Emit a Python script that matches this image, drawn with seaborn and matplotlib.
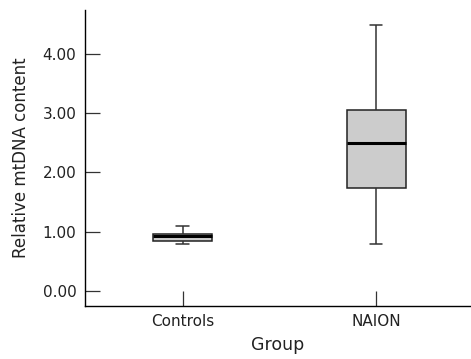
import numpy as np
import pandas as pd
import matplotlib
matplotlib.use("Agg")
import matplotlib.pyplot as plt
import seaborn as sns
from matplotlib.ticker import FormatStrFormatter

# Five-number summaries (min, Q1, median, Q3, max)
groups = ["Controls", "NAION"]
controls_vals = [0.80, 0.84, 0.93, 0.97, 1.09]
naion_vals = [0.80, 1.74, 2.49, 3.05, 4.48]
y_ticks = [0.0, 1.0, 2.0, 3.0, 4.0]

df = pd.DataFrame({
    "Group": [groups[0]] * len(controls_vals) + [groups[1]] * len(naion_vals),
    "mtDNA": controls_vals + naion_vals,
})

sns.set_style("white")
plt.rcParams["font.family"] = ["DejaVu Sans"]

fig = plt.figure(figsize=(4.71, 3.59), dpi=100)
ax = fig.add_axes([0.180, 0.148, 0.82, 0.824])

sns.boxplot(
    data=df, x="Group", y="mtDNA", order=groups, ax=ax,
    whis=(0, 100), width=0.306, color="#cccccc",
    linecolor="#333333", linewidth=1.1, capwidths=0.065,
    medianprops={"color": "black", "linewidth": 2.2},
    boxprops={"facecolor": "#cccccc", "edgecolor": "#222222"},
    showfliers=False,
)

ax.set_ylim(-0.25, 4.74)
ax.set_xlim(-0.505, 1.49)
ax.set_yticks(y_ticks)
ax.yaxis.set_major_formatter(FormatStrFormatter("%.2f"))
ax.tick_params(axis="both", direction="in", length=10.5, width=0.9,
               color="#333333", labelsize=11, labelcolor="#222222",
               left=True, bottom=True)
ax.tick_params(axis="y", pad=6)
ax.tick_params(axis="x", pad=6)

for s in ["top", "right"]:
    ax.spines[s].set_visible(False)
for s in ["left", "bottom"]:
    ax.spines[s].set_color("black")
    ax.spines[s].set_linewidth(1.0)

ax.set_ylabel("Relative mtDNA content", fontsize=12, color="#222222", labelpad=9)
ax.set_xlabel("Group", fontsize=12.5, color="#222222", labelpad=5)

fig.savefig("out.png", dpi=100)
